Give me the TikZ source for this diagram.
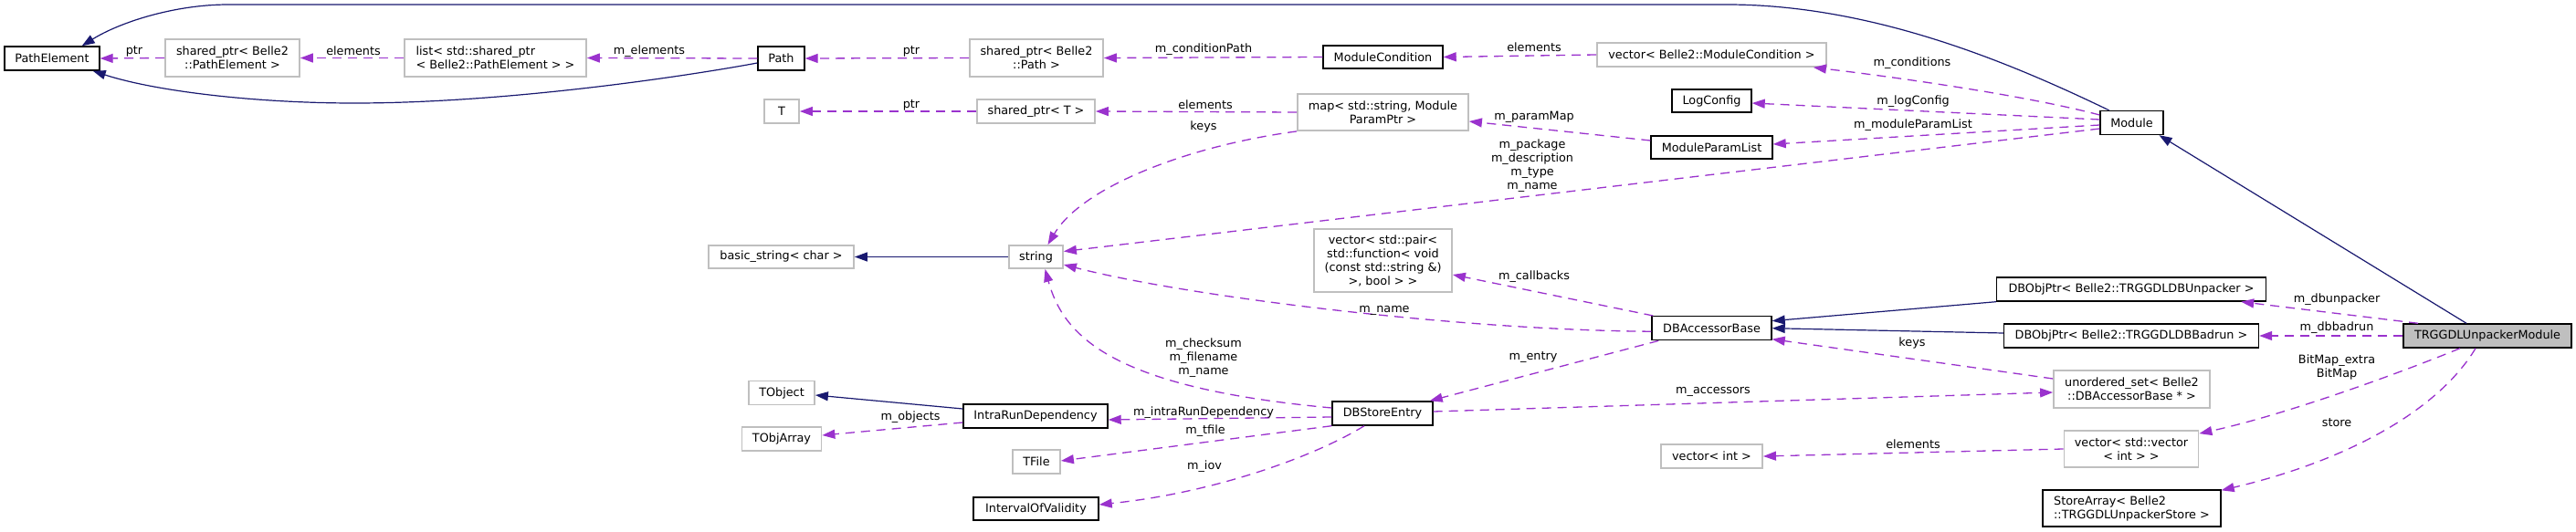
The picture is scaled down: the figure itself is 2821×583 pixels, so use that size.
\documentclass[tikz,border=0pt]{standalone}
\usepackage{fontspec}
\setmainfont{DejaVu Sans}
\usetikzlibrary{arrows.meta}
\definecolor{inhblue}{RGB}{25,25,112}
\definecolor{usepurple}{RGB}{154,50,205}
\definecolor{boxgray}{RGB}{191,191,191}
\definecolor{fillgray}{RGB}{191,191,191}
\tikzset{
 boxbase/.style={inner sep=0pt, align=center, font=\fontsize{12.8}{15}\selectfont, fill=white},
 docbox/.style={boxbase, draw=black, line width=1.4pt},
 undocbox/.style={boxbase, draw=boxgray, line width=1.8pt},
 inhedge/.style={draw=inhblue, line width=1.2pt, -{Triangle[length=14pt,width=10pt]}},
 usedge/.style={draw=usepurple, line width=1.3pt, dash pattern=on 10pt off 7pt, -{Triangle[length=14pt,width=10pt]}},
 lbl/.style={inner sep=0pt, align=center, font=\fontsize{12.8}{15}\selectfont},
}
\begin{document}
\begin{tikzpicture}[x=1pt,y=-1pt]
\fill[white] (0,0) rectangle (2821,583);
\useasboundingbox (0,0) rectangle (2821,583);

% nodes
\node[docbox, minimum width=104pt, minimum height=26pt] (PE) at (57,64) {PathElement};
\node[undocbox, minimum width=147pt, minimum height=41pt] (spPE) at (254.5,63.5) {shared\_ptr< Belle2\\::PathElement >};
\node[undocbox, align=left, minimum width=199pt, minimum height=41pt] (listPE) at (542.5,63.5) {list< std::shared\_ptr\\< Belle2::PathElement > >};
\node[docbox, minimum width=51pt, minimum height=26pt] (Path) at (855.5,64) {Path};
\node[undocbox, minimum width=146pt, minimum height=41pt] (spPath) at (1135,63.5) {shared\_ptr< Belle2\\::Path >};
\node[docbox, minimum width=131pt, minimum height=25pt] (MC) at (1514.5,62.5) {ModuleCondition};
\node[undocbox, minimum width=251pt, minimum height=26pt] (vecMC) at (1874.5,60) {vector< Belle2::ModuleCondition >};
\node[undocbox, minimum width=38pt, minimum height=26pt] (T) at (856,122) {T};
\node[undocbox, minimum width=129pt, minimum height=26pt] (spT) at (1134.5,122) {shared\_ptr< T >};
\node[undocbox, minimum width=187pt, minimum height=40pt] (map) at (1514.5,123) {map< std::string, Module\\ParamPtr >};
\node[docbox, minimum width=87pt, minimum height=25pt] (LogConfig) at (1874.5,110.5) {LogConfig};
\node[docbox, minimum width=133pt, minimum height=25pt] (MPL) at (1874.5,161.5) {ModuleParamList};
\node[docbox, minimum width=69pt, minimum height=26pt] (Module) at (2334.5,134.5) {Module};
\node[undocbox, minimum width=159pt, minimum height=25pt] (bstr) at (855.5,281.5) {basic\_string< char >};
\node[undocbox, minimum width=59pt, minimum height=25pt] (str) at (1134.5,281.5) {string};
\node[undocbox, minimum width=151pt, minimum height=69pt] (vecPair) at (1514.5,285.5) {vector< std::pair<\\std::function< void\\(const std::string \&)\\>, bool > >};
\node[docbox, minimum width=131pt, minimum height=26pt] (DBAB) at (1874.5,359.7) {DBAccessorBase};
\node[docbox, minimum width=295pt, minimum height=26pt] (DBOU) at (2334,317) {DBObjPtr< Belle2::TRGGDLDBUnpacker >};
\node[docbox, minimum width=279pt, minimum height=26pt] (DBOB) at (2334,368) {DBObjPtr< Belle2::TRGGDLDBBadrun >};
\node[docbox, fill=fillgray, minimum width=184pt, minimum height=26pt] (TRG) at (2724,368) {TRGGDLUnpackerModule};
\node[undocbox, minimum width=72pt, minimum height=26pt] (TObject) at (856,430.5) {TObject};
\node[docbox, minimum width=158pt, minimum height=26pt] (IRD) at (1134,456) {IntraRunDependency};
\node[undocbox, minimum width=87pt, minimum height=26pt] (TObjArray) at (856,481) {TObjArray};
\node[docbox, minimum width=110pt, minimum height=26pt] (DBSE) at (1514,453) {DBStoreEntry};
\node[undocbox, minimum width=52pt, minimum height=26pt] (TFile) at (1135,506) {TFile};
\node[docbox, minimum width=137pt, minimum height=25pt] (IOV) at (1134.5,557.5) {IntervalOfValidity};
\node[undocbox, minimum width=171pt, minimum height=41pt] (uset) at (2334.5,426.5) {unordered\_set< Belle2\\::DBAccessorBase * >};
\node[undocbox, minimum width=111pt, minimum height=26pt] (vecInt) at (1874.5,500) {vector< int >};
\node[undocbox, minimum width=147pt, minimum height=40pt] (vecVec) at (2334,492) {vector< std::vector\\< int > >};
\node[docbox, align=left, minimum width=195pt, minimum height=40pt] (SA) at (2334.5,557) {StoreArray< Belle2\\::TRGGDLUnpackerStore >};

% inheritance edges
\draw[inhedge] ([yshift=-5pt]Path.west) .. controls (760,82) and (560,113) .. (388,113) .. controls (280,113) and (170,100) .. ([xshift=-8pt]PE.south east);
\draw[inhedge] ([xshift=-25pt]Module.north) .. controls (2200,68) and (2050,5) .. (1891,5) -- (250,5) .. controls (190,5) and (130,25) .. ([xshift=-20pt]PE.north east);
\draw[inhedge] ([xshift=-23pt]TRG.north) -- ([xshift=30pt]Module.south);
\draw[inhedge] (DBOU.south west) -- ([yshift=8pt]DBAB.east);
\draw[inhedge] ([yshift=3pt]DBOB.west) -- (DBAB.east);
\draw[inhedge] (str.west) -- (bstr.east);
\draw[inhedge] ([yshift=8pt]IRD.west) -- ([yshift=-2.5pt]TObject.east);

% usage edges
\draw[usedge] (listPE.west) -- (spPE.east);
\draw[usedge] (spPE.west) -- (PE.east);
\draw[usedge] (Path.west) -- (listPE.east);
\draw[usedge] (spPath.west) -- (Path.east);
\draw[usedge] (MC.west) -- (spPath.east);
\draw[usedge] (vecMC.west) -- (MC.east);
\draw[usedge] ([yshift=8.5pt]Module.west) .. controls (2220,105) and (2080,85) .. ([xshift=-15pt]vecMC.south east);
\draw[usedge] ([yshift=3.5pt]Module.west) -- ([yshift=-2.5pt]LogConfig.east);
\draw[usedge] ([yshift=-2.5pt]Module.west) -- ([yshift=3.5pt]MPL.east);
\draw[usedge] ([yshift=-6.5pt]Module.west) -- ([yshift=6pt]str.east);
\draw[usedge] ([yshift=7.5pt]MPL.west) -- ([yshift=-10pt]map.east);
\draw[usedge] (map.west) -- (spT.east);
\draw[usedge] (spT.west) -- (T.east);
\draw[usedge] (map.south west) .. controls (1300,160) and (1185,205) .. ([xshift=13pt]str.north);
\draw[usedge] ([xshift=2pt]DBAB.north west) -- ([yshift=-15.5pt]vecPair.east);
\draw[usedge] ([yshift=-3.5pt]DBAB.west) .. controls (1600,362) and (1300,325) .. ([yshift=-8.5pt]str.east);
\draw[usedge] ([xshift=8pt]DBAB.south west) -- ([xshift=-4pt]DBSE.north east);
\draw[usedge] ([yshift=6pt]DBSE.west) .. controls (1220,425) and (1165,370) .. ([xshift=10pt]str.south);
\draw[usedge] ([yshift=-4pt]DBSE.west) -- ([yshift=-4pt]IRD.east);
\draw[usedge] (DBSE.south west) -- ([yshift=1pt]TFile.east);
\draw[usedge] ([xshift=-20pt]DBSE.south) .. controls (1440,500) and (1330,540) .. ([yshift=4.5pt]IOV.east);
\draw[usedge] ([yshift=-7pt]IRD.west) -- ([yshift=4pt]TObjArray.east);
\draw[usedge] ([yshift=2pt]DBSE.east) -- ([yshift=-3.5pt]uset.west);
\draw[usedge] ([yshift=11.5pt]uset.west) -- ([yshift=-12pt]DBAB.east);
\draw[usedge] (vecVec.west) -- (vecInt.east);
\draw[usedge] ([xshift=-76pt]TRG.north) -- ([xshift=-28pt]DBOU.south east);
\draw[usedge] (TRG.west) -- (DBOB.east);
\draw[usedge] ([xshift=-30pt]TRG.south) .. controls (2620,412) and (2500,455) .. ([yshift=-4pt]vecVec.north east);
\draw[usedge] ([xshift=-13pt]TRG.south) .. controls (2670,450) and (2570,505) .. ([yshift=-1pt]SA.north east);

% labels
\node[lbl] (l1) at (147,56) {ptr};
\node[lbl] (l2) at (387,56) {elements};
\node[lbl] (l3) at (711,56) {m\_elements};
\node[lbl] (l4) at (998,56) {ptr};
\node[lbl] (l5) at (1318,54) {m\_conditionPath};
\node[lbl] (l6) at (1680,52) {elements};
\node[lbl] (l7) at (2094,69) {m\_conditions};
\node[lbl] (l8) at (998,115) {ptr};
\node[lbl] (l9) at (1320,115) {elements};
\node[lbl] (l10) at (1318,139) {keys};
\node[lbl] (l11) at (1680,128) {m\_paramMap};
\node[lbl] (l12) at (2095,111) {m\_logConfig};
\node[lbl] (l13) at (2095,137) {m\_moduleParamList};
\node[lbl] (l14) at (1678,182) {m\_package\\m\_description\\m\_type\\m\_name};
\node[lbl] (l15) at (1680,303) {m\_callbacks};
\node[lbl] (l16) at (1516,340) {m\_name};
\node[lbl] (l17) at (1679,392) {m\_entry};
\node[lbl] (l18) at (2094,376) {keys};
\node[lbl] (l19) at (1876,429) {m\_accessors};
\node[lbl] (l20) at (1318,392) {m\_checksum\\m\_filename\\m\_name};
\node[lbl] (l21) at (1318,452) {m\_intraRunDependency};
\node[lbl] (l22) at (997,457) {m\_objects};
\node[lbl] (l23) at (1320,472) {m\_tfile};
\node[lbl] (l24) at (1319,511) {m\_iov};
\node[lbl] (l25) at (2095,487) {elements};
\node[lbl] (l26) at (2559,328) {m\_dbunpacker};
\node[lbl] (l27) at (2559,359) {m\_dbbadrun};
\node[lbl] (l28) at (2559,402) {BitMap\_extra\\BitMap};
\node[lbl] (l29) at (2559,463) {store};
\end{tikzpicture}
\end{document}
